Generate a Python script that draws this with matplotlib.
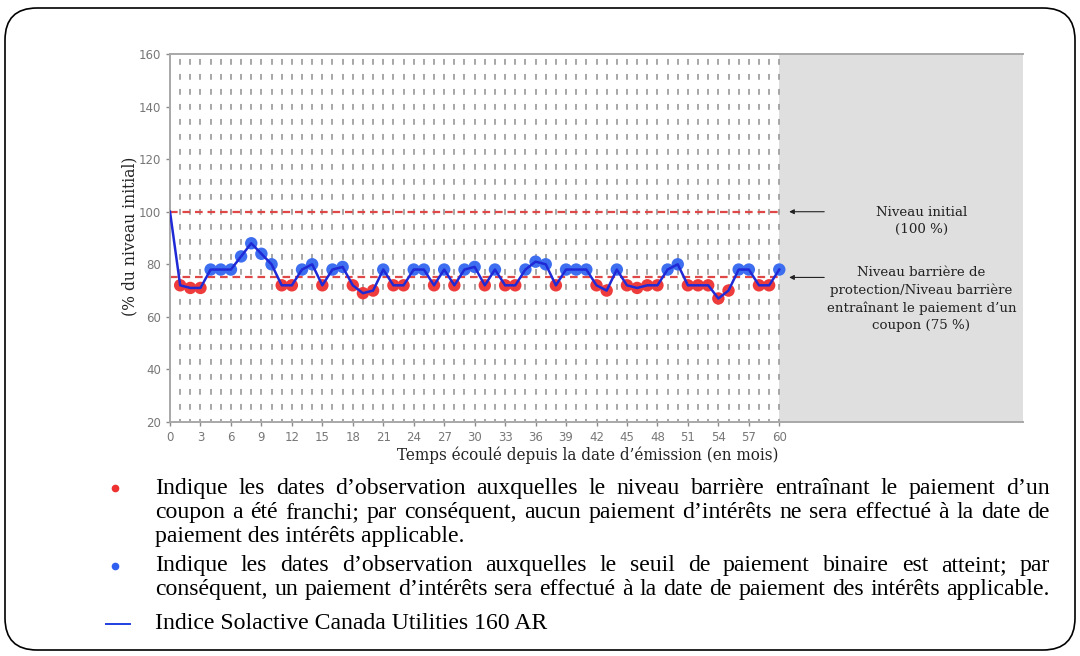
import matplotlib
matplotlib.use('Agg')
import matplotlib.pyplot as plt
from matplotlib.patches import FancyBboxPatch
from matplotlib.lines import Line2D
from matplotlib.transforms import IdentityTransform

# données (niveau en % du niveau initial, par mois)
mois = list(range(61))
niveau = [100, 72, 71, 71, 78, 78, 78, 83, 88, 84, 80, 72, 72, 78, 80, 72, 78, 79, 72, 69,
          70, 78, 72, 72, 78, 78, 72, 78, 72, 78, 79, 72, 78, 72, 72, 78, 81, 80, 72, 78,
          78, 78, 72, 70, 78, 72, 71, 72, 72, 78, 80, 72, 72, 72, 67, 70, 78, 78, 72, 72, 78]
barriere = 75
initial = 100
x_ticks = list(range(0, 61, 3))
y_ticks = list(range(20, 161, 20))

legende = [
    ("Indique les dates d’observation auxquelles le niveau barrière entraînant le paiement d’un", True),
    ("coupon a été franchi; par conséquent, aucun paiement d’intérêts ne sera effectué à la date de", True),
    ("paiement des intérêts applicable.", False),
    ("Indique les dates d’observation auxquelles le seuil de paiement binaire est atteint; par", True),
    ("conséquent, un paiement d’intérêts sera effectué à la date de paiement des intérêts applicable.", True),
    ("Indice Solactive Canada Utilities 160 AR", False),
]
lignes_y = [494, 518, 542, 571, 595, 629]

plt.rcParams['lines.scale_dashes'] = False

W, H = 1080, 656
fig = plt.figure(figsize=(W / 100, H / 100), dpi=100)


def fx(px):
    return px / W


def fy(py):
    return 1 - py / H


ax = fig.add_axes([fx(170), fy(422), fx(1023) - fx(170), fy(54) - fy(422)])
ax.set_xlim(0, 84)
ax.set_ylim(20, 160)

ax.axvspan(60, 84, color='#dfdfdf', zorder=0, lw=0)
for m in range(1, 61):
    ax.axvline(m, color='#a0a0a0', lw=1.3, ls=(2, (4.2, 6.6)), zorder=1)

ax.plot([0, 60], [initial, initial], color='#e04848', lw=1.6, ls=(0, (5.5, 3.5)), zorder=2)
ax.plot([0, 60], [barriere, barriere], color='#e04848', lw=1.6, ls=(0, (5.5, 3.5)), zorder=2)

obs_x = mois[1:]
obs_y = niveau[1:]
rouges = [(x, y) for x, y in zip(obs_x, obs_y) if y < barriere]
bleus = [(x, y) for x, y in zip(obs_x, obs_y) if y >= barriere]
ax.scatter([p[0] for p in rouges], [p[1] for p in rouges], s=80, color='#ee3c3c',
           edgecolors='none', zorder=3)
ax.scatter([p[0] for p in bleus], [p[1] for p in bleus], s=80, color='#3d6ef0',
           edgecolors='none', zorder=3)
ax.plot(mois, niveau, color='#1f2ad6', lw=1.8, zorder=4)

ax.set_xticks(x_ticks)
ax.set_yticks(y_ticks)
ax.tick_params(colors='#8a8a8a', labelcolor='#777777', labelsize=8.5, length=3, width=1)
for s in ['left', 'bottom', 'top']:
    ax.spines[s].set_color('#a8a8a8')
    ax.spines[s].set_linewidth(1.4)
ax.spines['right'].set_visible(False)

# annotations à droite
for niv in (initial, barriere):
    ax.annotate('', xy=(60.7, niv), xytext=(64.7, niv),
                arrowprops=dict(arrowstyle='-|>', color='#222222', lw=0.8, mutation_scale=7),
                annotation_clip=False)
ax.text(74.0, 96.5, 'Niveau initial\n(100 %)', ha='center', va='center',
        family='DejaVu Serif', size=9.6, linespacing=1.45, color='#222222')
ax.text(74.0, 66.8, 'Niveau barrière de\nprotection/Niveau barrière\nentraînant le paiement d’un\ncoupon (75 %)',
        ha='center', va='center', family='DejaVu Serif', size=9.6, linespacing=1.45, color='#222222')

# titres des axes
fig.text(fx(588), fy(455), 'Temps écoulé depuis la date d’émission (en mois)', ha='center', va='center',
         family='DejaVu Serif', stretch='condensed', size=12.2, color='#222222')
fig.text(fx(130), fy(236), '(% du niveau initial)', ha='center', va='center', rotation=90,
         family='DejaVu Serif', stretch='condensed', size=12.5, color='#222222')

# légende justifiée en bas
rend = fig.canvas.get_renderer()


def largeur(txt, size):
    t = fig.text(0, 0, txt, family='Liberation Serif', size=size)
    w = t.get_window_extent(renderer=rend).width
    t.remove()
    return w


x0, x1 = 155, 1050
taille = 15 * (x1 - x0) / largeur(legende[4][0], 15)
for (ligne, justifie), y in zip(legende, lignes_y):
    if not justifie:
        fig.text(fx(x0), fy(y), ligne, family='Liberation Serif', size=taille, va='baseline')
        continue
    mots = ligne.split(' ')
    larg = [largeur(m, taille) for m in mots]
    ecart = (x1 - x0 - sum(larg)) / (len(mots) - 1)
    x = x0
    for m, w in zip(mots, larg):
        fig.text(fx(x), fy(y), m, family='Liberation Serif', size=taille, va='baseline')
        x += w + ecart

fig.add_artist(Line2D([fx(115)], [fy(488)], marker='o', ms=4.5, color='#ee3030', lw=0))
fig.add_artist(Line2D([fx(115)], [fy(566)], marker='o', ms=4.5, color='#3060f0', lw=0))
fig.add_artist(Line2D([fx(106), fx(130)], [fy(624), fy(624)], color='#2040e0', lw=1.4))

# cadre arrondi
cadre = FancyBboxPatch((5, H - 650), 1070, 642, boxstyle='round,pad=0,rounding_size=32',
                       transform=IdentityTransform(), fill=False, ec='black', lw=1.2)
fig.add_artist(cadre)

fig.savefig('out.png', dpi=100)
